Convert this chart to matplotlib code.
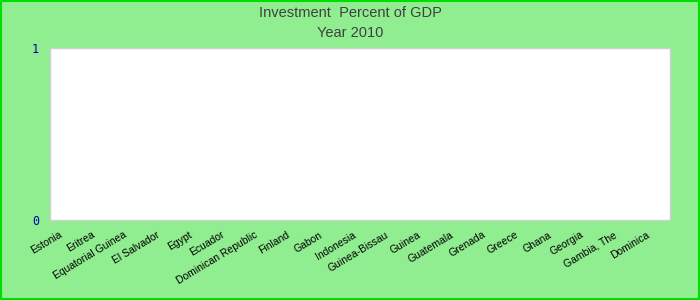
import matplotlib
matplotlib.use("Agg")
import matplotlib.pyplot as plt
from matplotlib.patches import Rectangle
from matplotlib.transforms import ScaledTranslation

countries = ["Estonia", "Eritrea", "Equatorial Guinea", "El Salvador", "Egypt",
             "Ecuador", "Dominican Republic", "Finland", "Gabon", "Indonesia",
             "Guinea-Bissau", "Guinea", "Guatemala", "Grenada", "Greece",
             "Ghana", "Georgia", "Gambia, The", "Dominica"]
values = [0] * len(countries)
yticks = [0, 1]

fig = plt.figure(figsize=(7, 3), dpi=100, facecolor="#90EE90")
ax = fig.add_axes([50/700, 1-220/300, 620/700, 172/300])
ax.set_facecolor("white")
x = list(range(len(countries)))
ax.bar(x, values, width=0.6, color="#4472C4")
ax.set_xlim(-0.5, len(countries) - 0.5)
ax.set_ylim(0, 1)
ax.set_yticks(yticks)
ax.set_yticklabels([str(v) for v in yticks], color="#0000AA",
                   family="DejaVu Sans Mono", fontsize=8.5)
ax.tick_params(axis="y", length=0, pad=8)
ax.set_xticks(x)
ax.set_xticklabels(countries, rotation=31, ha="right", va="top",
                   rotation_mode="anchor", family="Liberation Sans", fontsize=7.5)
ax.tick_params(axis="x", length=0, pad=7)
off = ScaledTranslation(-8/100, 0, fig.dpi_scale_trans)
for lab in ax.get_xticklabels():
    lab.set_transform(lab.get_transform() + off)
for s in ax.spines.values():
    s.set_color("#D0D0D0")
    s.set_linewidth(1)

fig.text(0.5, 1-13/300, "Investment  Percent of GDP", ha="center", va="center",
         family="Liberation Sans", fontsize=10.5, color="#404040")
fig.text(0.5, 1-33/300, "Year 2010", ha="center", va="center",
         family="Liberation Sans", fontsize=10.5, color="#404040")

fig.patches.append(Rectangle((0.001, 0.002), 0.998, 0.996, transform=fig.transFigure,
                             fill=False, edgecolor="#00DD00", linewidth=1.5))
fig.savefig("out.png", dpi=100, facecolor=fig.get_facecolor())
